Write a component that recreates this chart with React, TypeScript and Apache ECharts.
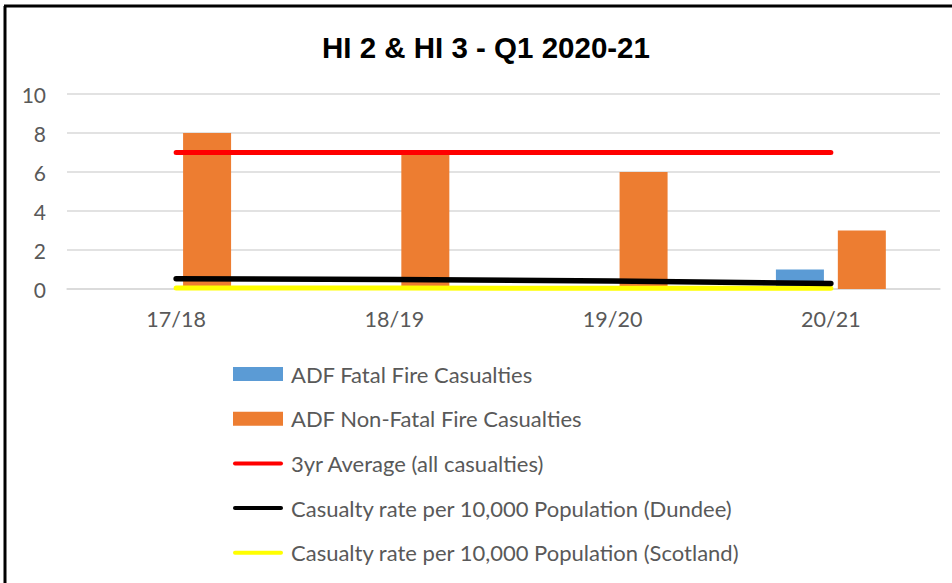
import React, { useEffect, useRef } from "react";
import * as echarts from "echarts";

const categories = ["17/18", "18/19", "19/20", "20/21"];
const fatal = [0, 0, 0, 1];
const nonFatal = [8, 7, 6, 3];
const avg3yr = [7, 7, 7, 7];
const rateDundee = [0.53, 0.49, 0.41, 0.28];
const rateScotland = [0.05, 0.05, 0.04, 0.04];
const yTicks = { min: 0, max: 10, interval: 2 };

const labelFont = "Lato, 'Open Sans', sans-serif";
const grey = "#595959";
const lineIcon = "path://M2,0 h46 a2,2 0 0 1 0,4 h-46 a2,2 0 0 1 0,-4 z";

export default function App() {
  const ref = useRef<HTMLDivElement>(null);
  useEffect(() => {
    if (!ref.current) return;
    const chart = echarts.init(ref.current, undefined, { renderer: "svg" });
    chart.setOption({
      animation: false,
      backgroundColor: "#ffffff",
      title: {
        text: "HI 2 & HI 3 - Q1 2020-21",
        left: 317,
        top: 27,
        textStyle: {
          fontFamily: "'Liberation Sans', Arial, sans-serif",
          fontWeight: "bold",
          fontSize: 29.5,
          color: "#000000",
        },
      },
      graphic: [
        { type: "line", shape: { x1: 5, y1: 6, x2: 5, y2: 600 }, style: { stroke: "#000", lineWidth: 3 } },
        { type: "line", shape: { x1: 4, y1: 6, x2: 960, y2: 6 }, style: { stroke: "#000", lineWidth: 3 } },
      ],
      grid: { left: 67, right: 12, top: 94, bottom: 294, containLabel: false },
      xAxis: {
        type: "category",
        data: categories,
        axisLine: { lineStyle: { color: "#d9d9d9", width: 1.5 } },
        axisTick: { show: false },
        axisLabel: { color: grey, fontSize: 21.5, fontFamily: labelFont, margin: 19 },
      },
      yAxis: {
        type: "value",
        min: yTicks.min,
        max: yTicks.max,
        interval: yTicks.interval,
        axisLine: { show: false },
        axisTick: { show: false },
        axisLabel: { color: grey, fontSize: 21, fontFamily: labelFont, margin: 21 },
        splitLine: { lineStyle: { color: "#d9d9d9", width: 1.5 } },
      },
      legend: {
        orient: "vertical",
        left: 228,
        top: 358,
        itemWidth: 50,
        itemHeight: 14,
        itemGap: 22.7,
        textStyle: {
          color: grey,
          fontSize: 22,
          fontFamily: labelFont,
          lineHeight: 22,
          padding: [0, 0, 0, 3],
        },
        data: [
          { name: "ADF Fatal Fire Casualties", icon: "rect" },
          { name: "ADF Non-Fatal Fire Casualties", icon: "rect" },
          { name: "3yr Average (all casualties)", icon: lineIcon },
          { name: "Casualty rate per 10,000 Population (Dundee)", icon: lineIcon },
          { name: "Casualty rate per 10,000 Population (Scotland)", icon: lineIcon },
        ],
      },
      series: [
        {
          name: "ADF Fatal Fire Casualties",
          type: "bar",
          data: fatal,
          barWidth: 48,
          barGap: "29%",
          itemStyle: { color: "#5b9bd5" },
          z: 2,
        },
        {
          name: "ADF Non-Fatal Fire Casualties",
          type: "bar",
          data: nonFatal,
          barWidth: 48,
          barGap: "29%",
          itemStyle: { color: "#ed7d31" },
          z: 2,
        },
        {
          name: "3yr Average (all casualties)",
          type: "line",
          data: avg3yr,
          symbol: "none",
          lineStyle: { color: "#ff0000", width: 5, cap: "round" },
          itemStyle: { color: "#ff0000" },
          z: 4,
        },
        {
          name: "Casualty rate per 10,000 Population (Dundee)",
          type: "line",
          data: rateDundee,
          symbol: "none",
          lineStyle: { color: "#000000", width: 5.5, cap: "round" },
          itemStyle: { color: "#000000" },
          z: 5,
        },
        {
          name: "Casualty rate per 10,000 Population (Scotland)",
          type: "line",
          data: rateScotland,
          symbol: "none",
          lineStyle: { color: "#ffff00", width: 5, cap: "round" },
          itemStyle: { color: "#ffff00" },
          z: 4,
        },
      ],
    });
    return () => chart.dispose();
  }, []);
  return (
    <div
      ref={ref}
      style={{ position: "fixed", left: 0, top: 0, width: 952, height: 583 }}
    />
  );
}
